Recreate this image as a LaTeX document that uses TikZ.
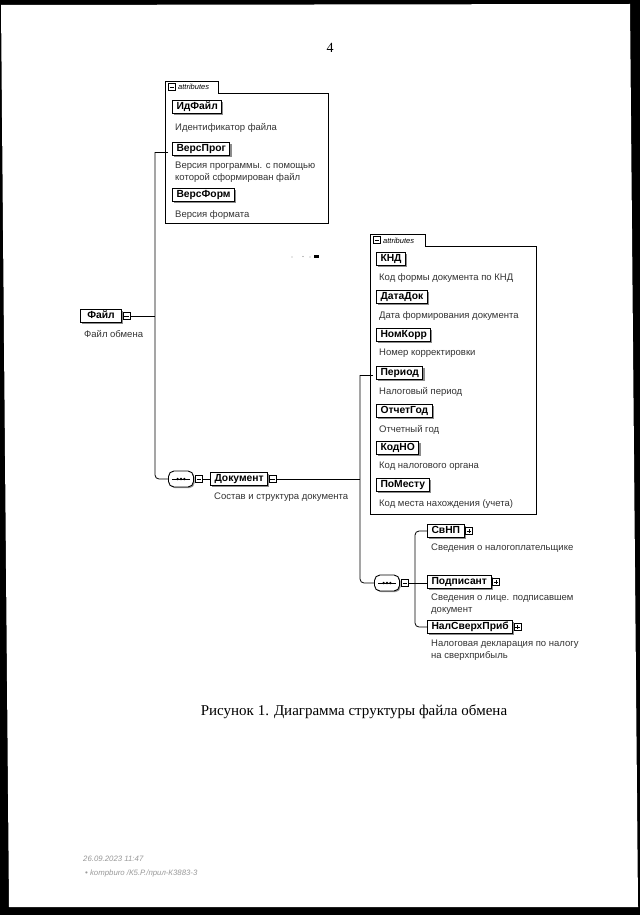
\documentclass[tikz,border=0pt]{standalone}
\usepackage{fontspec}
\setmainfont{Liberation Serif}
\setsansfont{Liberation Sans}
\usetikzlibrary{shadows}
\begin{document}
\begin{tikzpicture}[x=1pt,y=-1pt,
  conn/.style={line width=0.8pt},
  frame/.style={line width=0.8pt},
  box/.style={draw, line width=1pt, fill=white, anchor=west,
    font=\sffamily\bfseries\fontsize{10.3}{11}\selectfont,
    inner xsep=4pt, inner ysep=0pt, minimum height=13.5pt, text height=7.5pt, text depth=2pt,
    drop shadow={shadow xshift=1.6pt, shadow yshift=-1.6pt, fill=black!45, opacity=1}},
  desc/.style={anchor=north west, inner sep=0pt, font=\sffamily\fontsize{9.5}{11.8}\selectfont,
    text=black!80, align=left},
  icon/.style={draw, line width=0.6pt, minimum size=7pt, inner sep=0pt, fill=white, anchor=west},
  minusicon/.style={icon, path picture={\draw[line width=0.6pt]
      ([xshift=1.3pt]path picture bounding box.west) -- ([xshift=-1.3pt]path picture bounding box.east);}},
  plusicon/.style={icon, path picture={\draw[line width=0.6pt]
      ([xshift=1.3pt]path picture bounding box.west) -- ([xshift=-1.3pt]path picture bounding box.east)
      ([yshift=-1.3pt]path picture bounding box.north) -- ([yshift=1.3pt]path picture bounding box.south);}},
  seqnode/.style={rectangle, rounded corners=5.5pt, draw, line width=0.9pt, fill=white,
    minimum width=25pt, minimum height=16pt, inner sep=0pt,
    drop shadow={shadow xshift=1.2pt, shadow yshift=-1.2pt, fill=black!40, opacity=1}},
  tabtxt/.style={anchor=base west, inner sep=0pt, font=\sffamily\itshape\fontsize{7.5}{8}\selectfont}
]
% scan background
\fill[black] (0,0) rectangle (640,915);
\fill[white] (1,5) -- (630,4) -- (638,907) -- (9,907) -- cycle;
\useasboundingbox (0,0) rectangle (640,915);

% page number
\node[font=\fontsize{14}{14}\selectfont, inner sep=0pt] (pnum) at (330,48) {4};

% ---------- top attributes group ----------
\draw[frame] (165,223) -- (165,81) -- (218,81) -- (218,93) -- (328,93) -- (328,223) -- cycle;
\node[minusicon] (tabAm) at (168,87) {};
\node[tabtxt] (tabA) at (178,90) {attributes};

\node[box] (idf) at (172,107) {ИдФайл};
\node[desc] (idfd) at (175,123) {Идентификатор файла};
\node[box] (vprog) at (172,149) {ВерсПрог};
\node[desc] (vprogd) at (175,162) {Версия программы. с помощью\\которой сформирован файл};
\node[box] (vform) at (172,195) {ВерсФорм};
\node[desc] (vformd) at (175,210) {Версия формата};

% ---------- root element ----------
\node[box, minimum width=41pt] (file) at (80,316) {Файл};
\node[minusicon] (filem) at ([xshift=0.5pt]file.east) {};
\node[desc] (filed) at (84,330) {Файл обмена};

\coordinate (ja) at (155,152);
\coordinate (jb) at (155,316);

% sequence under root
\node[seqnode] (sq1) at (181,479) {};
\draw[line width=0.8pt] ([xshift=-9pt]sq1.center) -- ([xshift=9pt]sq1.center);
\foreach \d in {-3.3,0,3.3} \fill ([xshift=\d pt]sq1.center) circle (1.3pt);
\node[minusicon] (sq1m) at ([xshift=1pt]sq1.east) {};

\node[box] (doc) at (210,479) {Документ};
\node[minusicon] (docm) at ([xshift=0.5pt]doc.east) {};
\node[desc] (docd) at (214,493) {Состав и структура документа};

\draw[conn] (filem.east) -- (jb);
\draw[conn] (ja -| tabAm.west) -- (ja);
\draw[conn, rounded corners=4pt] (ja) -- (155,479) -- (sq1.west);
\draw[conn] (sq1m.east) -- (doc.west);

% ---------- second attributes group ----------
\draw[frame] (370,514) -- (370,234) -- (425,234) -- (425,246) -- (536,246) -- (536,514) -- cycle;
\node[minusicon] (tabBm) at (373,240) {};
\node[tabtxt] (tabB) at (383,243) {attributes};

\node[box] (knd) at (376,259) {КНД};
\node[desc] (kndd) at (379,273) {Код формы документа по КНД};
\node[box] (datadok) at (376,297) {ДатаДок};
\node[desc] (datadokd) at (379,311) {Дата формирования документа};
\node[box] (nomkorr) at (376,335) {НомКорр};
\node[desc] (nomkorrd) at (379,349) {Номер корректировки};
\node[box] (period) at (376,373) {Период};
\node[desc] (periodd) at (379,387) {Налоговый период};
\node[box] (otchgod) at (376,411) {ОтчетГод};
\node[desc] (otchgodd) at (379,425) {Отчетный год};
\node[box] (kodno) at (376,448) {КодНО};
\node[desc] (kodnod) at (379,462) {Код налогового органа};
\node[box] (pomestu) at (376,485) {ПоМесту};
\node[desc] (pomestud) at (379,499) {Код места нахождения (учета)};

\coordinate (jc) at (360,375);
\draw[conn] (docm.east) -- (docm.east -| jc);
\draw[conn] (jc -| tabBm.west) -- (jc);

% sequence under Документ
\node[seqnode] (sq2) at (387,583) {};
\draw[line width=0.8pt] ([xshift=-9pt]sq2.center) -- ([xshift=9pt]sq2.center);
\foreach \d in {-3.3,0,3.3} \fill ([xshift=\d pt]sq2.center) circle (1.3pt);
\node[minusicon] (sq2m) at ([xshift=1pt]sq2.east) {};
\draw[conn, rounded corners=4pt] (jc) -- (360,583) -- (sq2.west);

\node[box] (svnp) at (427,531) {СвНП};
\node[plusicon] (svnpp) at ([xshift=0.5pt]svnp.east) {};
\node[desc] (svnpd) at (431,544) {Сведения о налогоплательщике};
\node[box] (podp) at (427,582) {Подписант};
\node[plusicon] (podpp) at ([xshift=0.5pt]podp.east) {};
\node[desc] (podpd) at (431,594) {Сведения о лице. подписавшем\\документ};
\node[box] (nalsv) at (427,627) {НалСверхПриб};
\node[plusicon] (nalsvp) at ([xshift=0.5pt]nalsv.east) {};
\node[desc] (nalsvd) at (431,640) {Налоговая декларация по налогу\\на сверхприбыль};

\coordinate (jd) at (415,583);
\draw[conn] (sq2m.east) -- (jd);
\draw[conn, rounded corners=4pt] (svnp.west) -- (jd |- svnp.west) -- (jd |- nalsv.west) -- (nalsv.west);
\draw[conn] (jd) -- (podp.west |- jd);

% scan specks
\fill[black!40] (292,257) circle (0.7pt);
\fill[black!50] (303,256.5) circle (0.7pt);
\fill[black!40] (310,257) circle (0.6pt);
\fill[black] (314,255) rectangle (319,258);

% caption
\node[font=\fontsize{15}{15}\selectfont, inner sep=0pt] (cap) at (354,712) {Рисунок 1. Диаграмма структуры файла обмена};

% footer
\node[anchor=base west, inner sep=0pt, text=black!40, font=\sffamily\itshape\fontsize{7.8}{8}\selectfont] (stamp1) at (83,861) {26.09.2023 11:47};
\node[anchor=base west, inner sep=0pt, text=black!40, font=\sffamily\itshape\fontsize{7.8}{8}\selectfont] (stamp2) at (85,875) {•\ kompburo /К5.Р./прил-К3883-3};
\end{tikzpicture}
\end{document}
